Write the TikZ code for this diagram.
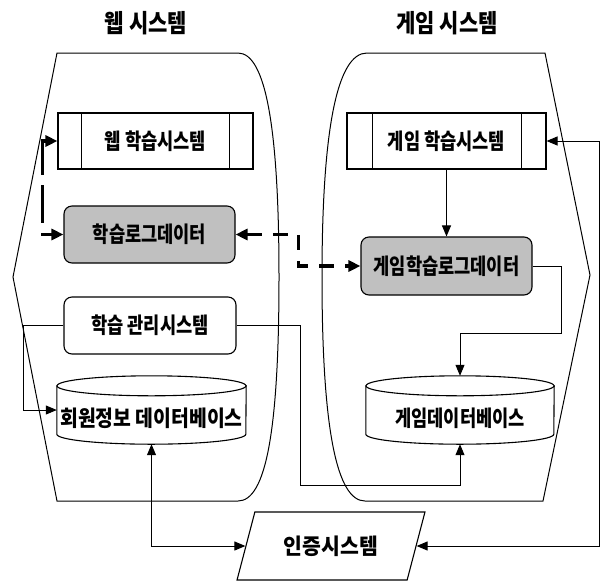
\documentclass[tikz,border=0pt]{standalone}
\usepackage{fontspec}
\setmainfont{Noto Sans CJK KR}
\newfontfamily\krbox{Noto Sans CJK KR}[FakeStretch=0.80]
\newfontfamily\krwide{Noto Sans CJK KR}[FakeStretch=0.88]
\newfontfamily\krtitle{Noto Sans CJK KR}[FakeStretch=0.84]
\newfontfamily\krauth{Noto Sans CJK KR}[FakeStretch=0.93]
\usetikzlibrary{arrows.meta,shapes.geometric,calc}
\begin{document}
\begin{tikzpicture}[x=1pt,y=-1pt,
  boxfont/.style={font=\krbox\fontsize{22}{26}\selectfont\bfseries},
  widefont/.style={font=\krwide\fontsize{22}{26}\selectfont\bfseries},
  titlefont/.style={font=\krtitle\fontsize{25}{30}\selectfont\bfseries},
  authfont/.style={font=\krauth\fontsize{22}{26}\selectfont\bfseries},
  procbox/.style={draw, line width=1.1pt, fill=white, inner sep=0pt, boxfont},
  roundbox/.style={draw, line width=1.1pt, rounded corners=8pt, inner sep=0pt, boxfont},
  logbox/.style={roundbox, fill=logfill},
  dbbody/.style={inner sep=0pt, minimum width=189pt, minimum height=68pt},
  dbline/.style={draw, line width=1.1pt, fill=white},
  container/.style={draw, line width=1pt},
  conn/.style={draw, line width=1pt, -{Triangle[length=11pt,width=9pt]}},
  bconn/.style={draw, line width=1pt, {Triangle[length=11pt,width=9pt]}-{Triangle[length=11pt,width=9pt]}},
  dconn/.style={draw, line width=3.5pt,
     {Triangle[length=12pt,width=11pt]}-{Triangle[length=12pt,width=11pt]}}
]
\definecolor{logfill}{RGB}{192,192,192}
\useasboundingbox (0,0) rectangle (605,582);

% containers
\draw[container] (57,53) -- (238,53)
  .. controls (266,53) and (279,130) .. (279,277)
  .. controls (279,430) and (266,501) .. (238,501)
  -- (57,501) -- (13,277) -- cycle;
\draw[container] (367,53) -- (545,53) -- (590,275) -- (543,501) -- (365,501)
  .. controls (337,501) and (322,430) .. (322,277)
  .. controls (322,130) and (337,53) .. (367,53) -- cycle;

% titles
\node[titlefont] (t1) at (146,23) {웹 시스템};
\node[titlefont] (t2) at (447,23) {게임 시스템};

% web side
\node[procbox, minimum width=195pt, minimum height=56pt] (wls) at (155.5,141) {웹 학습시스템};
\draw[line width=1.1pt] ([xshift=24pt]wls.north west) -- ([xshift=24pt]wls.south west);
\draw[line width=1.1pt] ([xshift=-24pt]wls.north east) -- ([xshift=-24pt]wls.south east);

\node[logbox, minimum width=171pt, minimum height=57pt] (log) at (149.5,234.5) {학습로그데이터};
\node[roundbox, minimum width=172pt, minimum height=57pt] (mgmt) at (150,325.5) {학습 관리시스템};

\node[dbbody] (mdb) at (151.5,410) {};
\path[dbline] ($(mdb.north west)+(0,10)$) -- ($(mdb.south west)+(0,-10)$)
   arc[start angle=180,end angle=360,x radius=94.5pt,y radius=10pt]
   -- ($(mdb.north east)+(0,10)$) -- cycle;
\draw[line width=1.1pt, fill=white] ($(mdb.north)+(0,10)$) ellipse[x radius=94.5pt,y radius=10pt];
\node[widefont, inner sep=0pt] (mdbt) at ($(mdb.center)+(0,8)$) {회원정보 데이터베이스};

% game side
\node[procbox, minimum width=199pt, minimum height=56pt] (gls) at (446.5,141) {게임 학습시스템};
\draw[line width=1.1pt] ([xshift=26pt]gls.north west) -- ([xshift=26pt]gls.south west);
\draw[line width=1.1pt] ([xshift=-25pt]gls.north east) -- ([xshift=-25pt]gls.south east);

\node[logbox, minimum width=171pt, minimum height=58pt] (glog) at (446.5,266) {게임학습로그데이터};

\node[dbbody, minimum width=188pt] (gdb) at (460,410) {};
\path[dbline] ($(gdb.north west)+(0,10)$) -- ($(gdb.south west)+(0,-10)$)
   arc[start angle=180,end angle=360,x radius=94pt,y radius=10pt]
   -- ($(gdb.north east)+(0,10)$) -- cycle;
\draw[line width=1.1pt, fill=white] ($(gdb.north)+(0,10)$) ellipse[x radius=94pt,y radius=10pt];
\node[boxfont, inner sep=0pt] (gdbt) at ($(gdb.center)+(0,8)$) {게임데이터베이스};

% authentication
\node[trapezium, draw, line width=1.1pt, trapezium left angle=62, trapezium right angle=118,
      trapezium stretches=true, minimum width=188pt, minimum height=68pt, inner sep=0pt,
      authfont] (auth) at (331,546) {인증시스템};

% connectors
\draw[dconn, dash pattern=on 38pt off 10pt] (wls.west) -- ++(-15,0) |- (log.west);
\draw[dconn, dash pattern=on 15pt off 11pt] (log.east) -- ++(63,0) |- (glog.west);
\draw[conn] (gls.south) -- (glog.north);
\draw[conn] (glog.east) -- ++(29,0) |- ($(gdb.north)+(0,-42)$) -- (gdb.north);
\draw[conn] (mgmt.west) -- ++(-40,0) |- (mdb.west);
\draw[conn] (mgmt.east) -- ++(64,0) |- ($(gdb.south)+(0,41)$) -- (gdb.south);
\draw[bconn] (mdb.south) |- (auth.west);
\draw[bconn] (auth.east) -| ($(gls.east)+(53,0)$) -- (gls.east);
\end{tikzpicture}
\end{document}
